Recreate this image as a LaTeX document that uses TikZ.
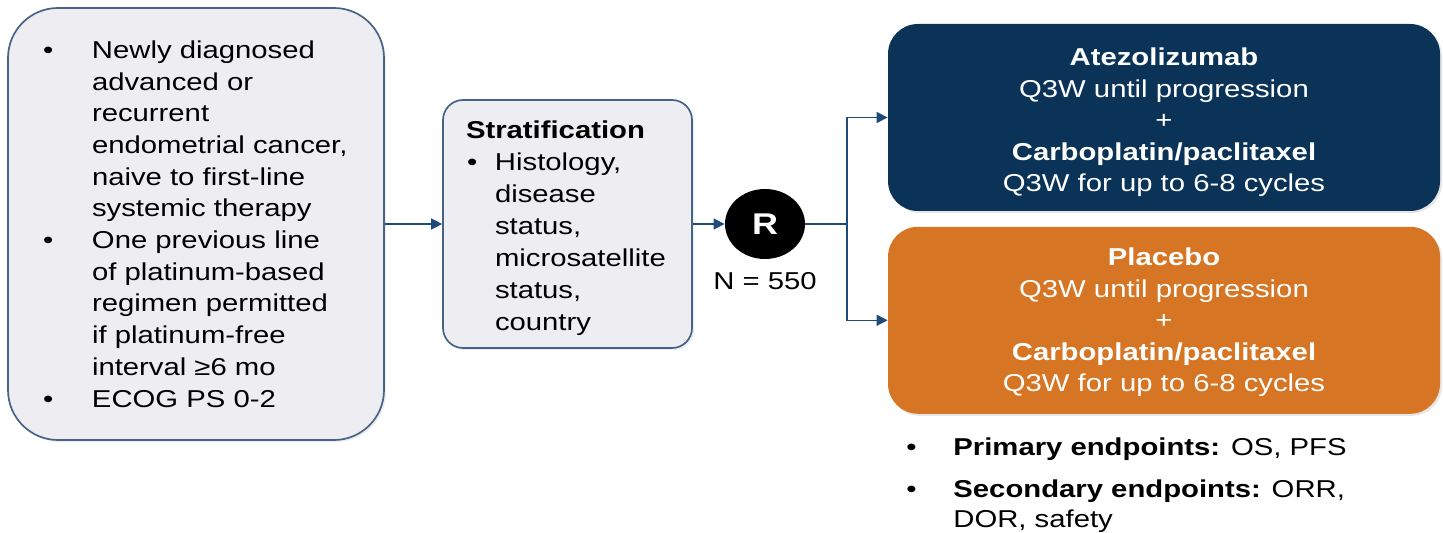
\documentclass[tikz,border=0pt]{standalone}
\usepackage{fontspec}
\setmainfont{Liberation Sans}[FakeStretch=1.2]
\usetikzlibrary{positioning,shapes.geometric,arrows.meta,shadows}

\definecolor{boxline}{HTML}{466487}
\definecolor{boxfill}{HTML}{EEEEF2}
\definecolor{navyarm}{HTML}{0A3357}
\definecolor{orangearm}{HTML}{D67524}
\definecolor{flowline}{HTML}{1F4A7A}

% bullet line: label width, bullet offset, text
\newcommand{\bulitem}[3]{\par\begingroup\let\\\newline
    \noindent\hangindent=#1\hangafter=1%
    \makebox[#1][l]{\hspace{#2}\textbullet}#3\par\endgroup}

\tikzset{
    every node/.style={font=\fontsize{12.2}{16}\selectfont},
    greybox/.style={draw=boxline, line width=0.85pt, fill=boxfill, inner sep=0pt,
        drop shadow={opacity=0.15, shadow xshift=1pt, shadow yshift=-1pt}},
    armbox/.style={rounded corners=15pt, inner sep=0pt, minimum width=276pt,
        minimum height=93.5pt, text=white, align=center,
        font=\fontsize{12.2}{15.75}\selectfont,
        drop shadow={opacity=0.2, shadow xshift=1pt, shadow yshift=-1pt}},
    flow/.style={draw=flowline, line width=0.7pt},
    flowarrow/.style={flow, -{Triangle[length=5.5pt,width=5.5pt]}}
}

\begin{document}
\begin{tikzpicture}[x=0.5pt, y=-0.5pt]
\useasboundingbox (0,0) rectangle (1443,533);

% eligibility
\node[greybox, rounded corners=25pt, minimum width=188pt, minimum height=216pt]
    (elig) at (196,224) {\begin{minipage}{160pt}\raggedright\baselineskip=15.85pt
    \bulitem{28pt}{3.5pt}{Newly diagnosed\\advanced or\\recurrent\\endometrial cancer,\\naive to first-line\\systemic therapy}
    \bulitem{28pt}{3.5pt}{One previous line\\of platinum-based\\regimen permitted\\if platinum-free\\interval ≥6 mo}
    \bulitem{28pt}{3.5pt}{ECOG PS 0-2}
    \end{minipage}};

% stratification
\node[greybox, rounded corners=10pt, minimum width=124.5pt, minimum height=124pt]
    (strat) at (567.5,224) {\begin{minipage}{101.5pt}\raggedright
    \noindent\rule{0pt}{13pt}\textbf{Stratification}\par
    \bulitem{14.5pt}{0.5pt}{Histology,\\disease\\status,\\microsatellite\\status,\\country}
    \end{minipage}};

% randomisation
\node[ellipse, fill=black, minimum width=40pt, minimum height=35pt, inner sep=0pt,
    text=white, font=\fontsize{15}{18}\selectfont\bfseries] (rand) at (765,224) {R};
\node[below=3pt of rand] (nsize) {N = 550};

% arms
\node[armbox, fill=navyarm] (arm1) at (1164,117.5)
    {\rule{0pt}{14pt}\textbf{Atezolizumab}\\Q3W until progression\\+\\\textbf{Carboplatin/paclitaxel}\\Q3W for up to 6-8 cycles};
\node[armbox, fill=orangearm, below=7.5pt of arm1] (arm2)
    {\rule{0pt}{11pt}\textbf{Placebo}\\Q3W until progression\\+\\\textbf{Carboplatin/paclitaxel}\\Q3W for up to 6-8 cycles};

% endpoints
\node[anchor=north west, inner sep=0pt, font=\fontsize{12.2}{14.75}\selectfont]
    (endpts) at (905,437.5) {\begin{minipage}{260pt}\raggedright
    \bulitem{24pt}{0.5pt}{\textbf{Primary endpoints:} OS, PFS}
    \vspace{6.25pt}
    \bulitem{24pt}{0.5pt}{\textbf{Secondary endpoints:} ORR,\\DOR, safety}
    \end{minipage}};

% connectors
\coordinate (split) at (847,224);
\draw[flowarrow] (elig) -- (strat);
\draw[flowarrow] (strat) -- (rand);
\draw[flow] (rand) -- (split);
\draw[flowarrow] (split) |- (arm1);
\draw[flowarrow] (split) |- (arm2);
\end{tikzpicture}
\end{document}
